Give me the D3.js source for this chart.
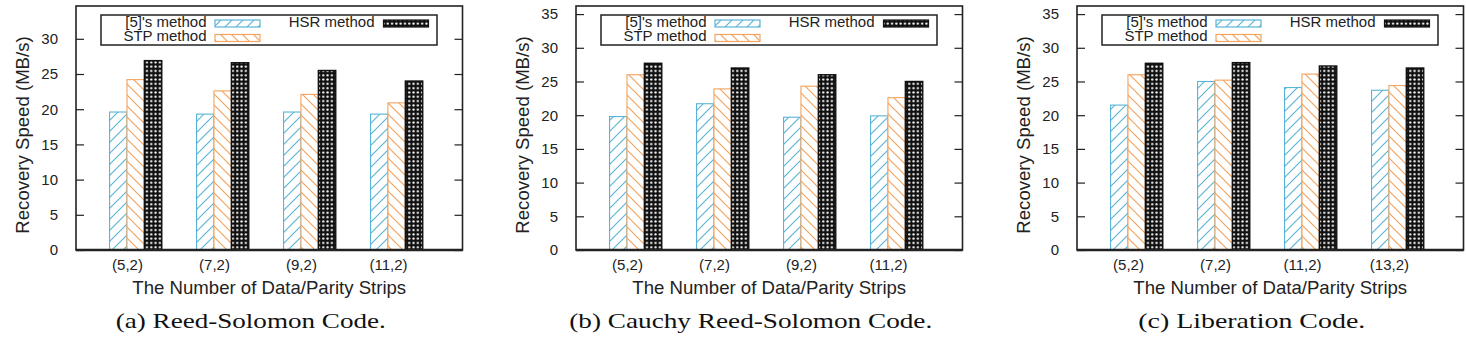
<!DOCTYPE html>
<html>
<head>
<meta charset="utf-8">
<script src="https://cdn.jsdelivr.net/npm/d3@7"></script>
<style>
  html, body { margin: 0; padding: 0; background: #fff; }
  svg { display: block; font-family: "Liberation Sans", Arial, sans-serif; }
</style>
</head>
<body>
<svg id="chart" width="1466" height="339"></svg>
<script>
// categories per panel
const groupsA = ["(5,2)", "(7,2)", "(9,2)", "(11,2)"];
const groupsB = ["(5,2)", "(7,2)", "(9,2)", "(11,2)"];
const groupsC = ["(5,2)", "(7,2)", "(11,2)", "(13,2)"];

// recovery speed (MB/s)
const fiveA = [19.6, 19.3, 19.6, 19.3];
const stpA = [24.2, 22.6, 22.1, 20.9];
const hsrA = [26.9, 26.6, 25.5, 24.0];

const fiveB = [19.8, 21.7, 19.7, 19.9];
const stpB = [26.0, 23.9, 24.3, 22.6];
const hsrB = [27.7, 27.0, 26.0, 25.0];

const fiveC = [21.5, 25.0, 24.1, 23.7];
const stpC = [26.0, 25.2, 26.1, 24.4];
const hsrC = [27.7, 27.8, 27.3, 27.0];

const seriesNames = ["[5]'s method", "STP method", "HSR method"];
const captions = ["(a) Reed-Solomon Code.", "(b) Cauchy Reed-Solomon Code.", "(c) Liberation Code."];
const yMaxes = [34.66, 36.2, 36.2];
const yTickMaxes = [30, 35, 35];
const xLabel = "The Number of Data/Parity Strips";
const yLabel = "Recovery Speed (MB/s)";

const panels = [
  { groups: groupsA, series: [fiveA, stpA, hsrA] },
  { groups: groupsB, series: [fiveB, stpB, hsrB] },
  { groups: groupsC, series: [fiveC, stpC, hsrC] },
];

const BLUE = "#5ab4d6";
const ORANGE = "#f2a35e";
const INK = "#222";

const PANEL_X = [76, 576, 1077];
const FRAME_W = 386.5;
const FRAME_TOP = 6;
const FRAME_BOTTOM = 250;
const CAPTION_W = [270, 363, 227];

const svg = d3.select("#chart");
const defs = svg.append("defs");

function hatch(id, color, dir) {
  const s = 11;
  const p = defs.append("pattern")
    .attr("id", id)
    .attr("patternUnits", "userSpaceOnUse")
    .attr("width", s).attr("height", s);
  p.append("rect").attr("width", s).attr("height", s).attr("fill", "#fff");
  const d = dir > 0
    ? `M0,${s} L${s},0 M${-s / 2},${s / 2} L${s / 2},${-s / 2} M${s / 2},${s * 1.5} L${s * 1.5},${s / 2}`
    : `M0,0 L${s},${s} M${-s / 2},${s / 2} L${s / 2},${s * 1.5} M${s / 2},${-s / 2} L${s * 1.5},${s / 2}`;
  p.append("path").attr("d", d).attr("stroke", color).attr("stroke-width", 1.15).attr("fill", "none");
}
hatch("hatch-blue", BLUE, 1);
hatch("hatch-orange", ORANGE, -1);

const dots = defs.append("pattern")
  .attr("id", "dots-black")
  .attr("patternUnits", "userSpaceOnUse")
  .attr("width", 4.3).attr("height", 4.3);
dots.append("rect").attr("width", 4.3).attr("height", 4.3).attr("fill", "#111");
dots.append("circle").attr("cx", 2.15).attr("cy", 2.15).attr("r", 1.15).attr("fill", "#fff");

const fills = ["url(#hatch-blue)", "url(#hatch-orange)", "url(#dots-black)"];
const strokes = [BLUE, ORANGE, "#111"];

panels.forEach((panel, pi) => {
  const g = svg.append("g").attr("transform", `translate(${PANEL_X[pi]},0)`);

  const x = d3.scaleLinear().domain([-0.586, 3.857]).range([0, FRAME_W]);
  const y = d3.scaleLinear().domain([0, yMaxes[pi]]).range([FRAME_BOTTOM, FRAME_TOP]);
  const ticks = d3.range(0, yTickMaxes[pi] + 1, 5);
  const barW = 0.2;

  // bars
  panel.series.forEach((vals, si) => {
    g.append("g")
      .selectAll("rect")
      .data(vals)
      .join("rect")
      .attr("x", (d, i) => x(i + (si - 1) * barW))
      .attr("width", x(barW) - x(0))
      .attr("y", (d) => y(d))
      .attr("height", (d) => y(0) - y(d))
      .attr("fill", fills[si])
      .attr("stroke", strokes[si])
      .attr("stroke-width", si === 2 ? 1.4 : 1.1);
  });

  // left axis, ticks pointing inward
  const left = g.append("g")
    .call(d3.axisLeft(y).tickValues(ticks).tickSizeInner(-8).tickSizeOuter(0).tickPadding(18));
  left.select(".domain").remove();
  left.selectAll("line").attr("stroke", INK).attr("stroke-width", 1.2);
  left.selectAll("text").attr("font-size", 15).attr("fill", INK).attr("font-family", null);

  // mirrored right ticks
  const right = g.append("g")
    .attr("transform", `translate(${FRAME_W},0)`)
    .call(d3.axisRight(y).tickValues(ticks).tickSizeInner(-8).tickSizeOuter(0).tickFormat(""));
  right.select(".domain").remove();
  right.selectAll("line").attr("stroke", INK).attr("stroke-width", 1.2);

  // bottom category labels
  const bottom = g.append("g")
    .attr("transform", `translate(0,${FRAME_BOTTOM})`)
    .call(d3.axisBottom(x).tickValues(d3.range(panel.groups.length))
      .tickFormat((i) => panel.groups[i]).tickSize(0).tickPadding(9));
  bottom.select(".domain").remove();
  bottom.selectAll("text").attr("font-size", 15).attr("fill", INK).attr("font-family", null);

  // frame
  g.append("rect")
    .attr("x", 0).attr("y", FRAME_TOP)
    .attr("width", FRAME_W).attr("height", FRAME_BOTTOM - FRAME_TOP)
    .attr("fill", "none").attr("stroke", INK).attr("stroke-width", 1.6);
  g.append("line")
    .attr("x1", 0).attr("x2", FRAME_W)
    .attr("y1", FRAME_BOTTOM).attr("y2", FRAME_BOTTOM)
    .attr("stroke", INK).attr("stroke-width", 2.6);

  // legend
  const lg = g.append("g");
  lg.append("rect")
    .attr("x", 25).attr("y", 15).attr("width", 336).attr("height", 30)
    .attr("fill", "#fff").attr("stroke", INK).attr("stroke-width", 1.5);
  const legendPos = [
    { tx: 130.5, sx: 139, sy: 20 },
    { tx: 130.5, sx: 139, sy: 34.5 },
    { tx: 298.5, sx: 307.5, sy: 20 },
  ];
  seriesNames.forEach((name, si) => {
    const p = legendPos[si];
    lg.append("text")
      .attr("x", p.tx).attr("y", p.sy + 6.8)
      .attr("text-anchor", "end")
      .attr("font-size", 15).attr("fill", INK)
      .text(name);
    lg.append("rect")
      .attr("x", p.sx).attr("y", p.sy)
      .attr("width", 45).attr("height", 7)
      .attr("fill", fills[si]).attr("stroke", strokes[si]).attr("stroke-width", 1.2);
  });

  // axis titles
  g.append("text")
    .attr("x", FRAME_W / 2).attr("y", 293.5)
    .attr("text-anchor", "middle")
    .attr("font-size", 18.6).attr("fill", INK)
    .text(xLabel);
  g.append("text")
    .attr("transform", `translate(-47,${(FRAME_TOP + FRAME_BOTTOM) / 2 + 7}) rotate(-90)`)
    .attr("text-anchor", "middle")
    .attr("font-size", 18.6).attr("fill", INK)
    .text(yLabel);

  // caption
  g.append("text")
    .attr("x", FRAME_W / 2 - 18.5).attr("y", 328)
    .attr("text-anchor", "middle")
    .attr("font-family", "'Liberation Serif', 'Times New Roman', serif")
    .attr("font-size", 21).attr("fill", "#111")
    .attr("textLength", CAPTION_W[pi]).attr("lengthAdjust", "spacingAndGlyphs")
    .text(captions[pi]);
});
</script>
</body>
</html>
